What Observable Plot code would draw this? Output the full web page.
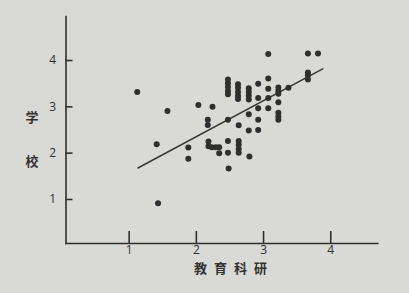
<!DOCTYPE html>
<html>
<head>
<meta charset="utf-8">
<script src="https://cdn.jsdelivr.net/npm/d3@7"></script>
<script src="https://cdn.jsdelivr.net/npm/@observablehq/plot@0.6"></script>
<style>
  html, body { margin: 0; padding: 0; background: #d9d9d5; }
  #chart svg { display: block; }
</style>
</head>
<body>
<div id="chart"></div>
<script>
// Scores: 教育科研 (x) against 学校 (y)
const researchScores = [
  1.12, 1.57, 1.41, 1.43, 1.88, 1.88, 2.03, 2.24, 2.17, 2.17,
  2.18, 2.18, 2.23, 2.29, 2.34, 2.34,
  2.47, 2.47, 2.47, 2.47, 2.47, 2.47, 2.47, 2.47, 2.48,
  2.62, 2.62, 2.62, 2.62, 2.62, 2.63, 2.63, 2.63, 2.63, 2.63,
  2.78, 2.78, 2.78, 2.78, 2.78, 2.78, 2.79,
  2.92, 2.92, 2.92, 2.92, 2.92,
  3.07, 3.07, 3.07, 3.07, 3.07,
  3.22, 3.22, 3.22, 3.22, 3.22, 3.22, 3.22,
  3.37, 3.66, 3.81, 3.66, 3.66, 3.66
];
const schoolScores = [
  3.32, 2.91, 2.19, 0.92, 2.12, 1.88, 3.04, 3.00, 2.72, 2.61,
  2.25, 2.15, 2.13, 2.13, 2.13, 2.00,
  3.59, 3.51, 3.43, 3.34, 3.27, 2.72, 2.26, 2.01, 1.67,
  3.49, 3.41, 3.32, 3.24, 3.17, 2.60, 2.26, 2.18, 2.09, 2.01,
  3.40, 3.32, 3.24, 3.16, 2.84, 2.49, 1.93,
  3.50, 3.19, 2.97, 2.72, 2.50,
  4.14, 3.61, 3.39, 3.19, 2.97,
  3.42, 3.34, 3.28, 3.10, 2.87, 2.79, 2.72,
  3.41, 4.15, 4.15, 3.74, 3.68, 3.59
];
// Fitted trend line endpoints
const trendX = [1.13, 3.88];
const trendY = [1.68, 3.82];
// Tick values on both axes
const xTicks = [1, 2, 3, 4];
const yTicks = [1, 2, 3, 4];
const xTitle = "教育科研";
const yTitle = "学\n校";

const points = researchScores.map((x, i) => ({x, y: schoolScores[i]}));
const trend = trendX.map((x, i) => ({x, y: trendY[i]}));

const W = 409, H = 293;
const margin = {left: 65.5, right: 31.7, top: 16, bottom: 50};
const plotW = W - margin.left - margin.right;
const plotH = H - margin.top - margin.bottom;
const xDomain = [0.06, 4.7];
const yDomain = [0.05, 4.95];
// inward tick lengths in pixels, converted to data units along the other axis
const xTickLen = 12, yTickLen = 7;
const xTickTop = yDomain[0] + xTickLen * (yDomain[1] - yDomain[0]) / plotH;
const yTickEnd = xDomain[0] + yTickLen * (xDomain[1] - xDomain[0]) / plotW;

const ink = "#2f2f2f";
const tickFont = "'Open Sans', 'Noto Sans', sans-serif";

const chart = Plot.plot({
  width: W,
  height: H,
  marginLeft: margin.left,
  marginRight: margin.right,
  marginTop: margin.top,
  marginBottom: margin.bottom,
  style: {background: "#d9d9d5", color: ink, fontFamily: tickFont, fontSize: "12px"},
  x: {domain: xDomain},
  y: {domain: yDomain},
  marks: [
    Plot.frame({anchor: "left", stroke: ink, strokeWidth: 1.6}),
    Plot.frame({anchor: "bottom", stroke: ink, strokeWidth: 1.6}),
    // tick marks pointing into the plot area
    Plot.ruleX(xTicks, {x: d => d, y1: yDomain[0], y2: xTickTop, stroke: ink, strokeWidth: 1.6}),
    Plot.ruleY(yTicks, {y: d => d, x1: xDomain[0], x2: yTickEnd, stroke: ink, strokeWidth: 1.6}),
    // tick labels
    Plot.axisX({ticks: xTicks, tickSize: 0, tickPadding: 2, tickFormat: "d", label: null}),
    Plot.axisY({ticks: yTicks, tickSize: 0, tickPadding: 10, tickFormat: "d", label: null}),
    Plot.line(trend, {x: "x", y: "y", stroke: "#383838", strokeWidth: 1.5}),
    Plot.dot(points, {x: "x", y: "y", r: 3, fill: ink, stroke: null}),
    Plot.text([xTitle], {
      text: d => d, frameAnchor: "bottom", dy: 29, dx: 12,
      fontFamily: "'Noto Sans CJK SC', sans-serif", fontWeight: "bold", fontSize: 13, fill: "#333"
    }),
    Plot.text([yTitle], {
      text: d => d, frameAnchor: "left", dx: -40.5, dy: 0, lineHeight: 3.4,
      fontFamily: "'Noto Sans CJK SC', sans-serif", fontWeight: "bold", fontSize: 13, fill: "#333"
    })
  ]
});

// widen the spacing between the characters of the x title
d3.select(chart).selectAll("text")
  .filter(function() { return this.textContent === xTitle; })
  .style("letter-spacing", "7px");

document.getElementById("chart").append(chart);
</script>
</body>
</html>
